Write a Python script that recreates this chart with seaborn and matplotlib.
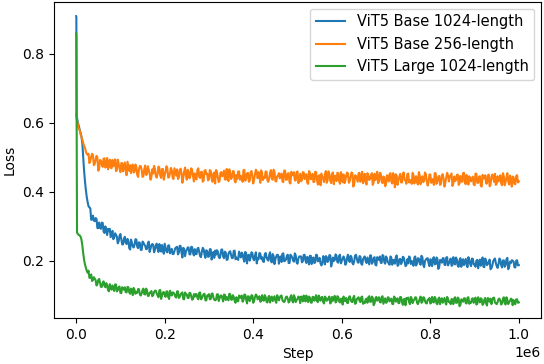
import numpy as np
import pandas as pd
import matplotlib
matplotlib.use("Agg")
import matplotlib.pyplot as plt
import seaborn as sns

# ---------------- data ----------------
series_names = ["ViT5 Base 1024-length", "ViT5 Base 256-length", "ViT5 Large 1024-length"]
colors = ["#1f77b4", "#ff7f0e", "#2ca02c"]

# logged steps in the steady part of training (two interleaved logs, every 4k steps each)
tail_steps = np.arange(28_000, 1_000_001, 4_000)
mid_steps = np.arange(30_000, 999_000, 4_000)

# early steps (warm-up region)
blue_early_steps = [0, 500, 1000, 4000, 8000, 12000, 14000, 16000, 18000, 20000, 22000, 24000, 26000]
blue_early_loss = [0.908, 0.905, 0.620, 0.600, 0.580, 0.560, 0.540, 0.500, 0.460, 0.430, 0.405, 0.385, 0.370]

orange_early_steps = [0, 1000, 3000, 5000, 8000, 11000, 14000, 17000, 20000, 23000, 26000]
orange_early_loss = [0.625, 0.610, 0.601, 0.586, 0.578, 0.562, 0.551, 0.536, 0.527, 0.512, 0.507]

green_early_steps = [0, 500, 2000, 5000, 8000, 10000, 12000, 14000, 16000, 18000, 20000, 22000, 24000, 26000]
green_early_loss = [0.858, 0.850, 0.282, 0.276, 0.274, 0.270, 0.262, 0.245, 0.222, 0.203, 0.190, 0.180, 0.172, 0.166]

# steady-part losses, in thousandths
blue_tail_milli = [
    358, 352, 320, 317, 324, 295, 311, 293, 310, 281, 289, 293,
    293, 273, 263, 280, 270, 257, 278, 248, 264, 253, 264, 237,
    262, 242, 247, 262, 237, 252, 232, 253, 244, 235, 256, 235,
    249, 225, 245, 236, 249, 227, 232, 250, 227, 245, 222, 235,
    220, 237, 241, 224, 243, 210, 235, 227, 239, 219, 241, 223,
    234, 220, 238, 214, 227, 234, 209, 228, 213, 234, 218, 209,
    218, 228, 208, 233, 213, 227, 203, 221, 228, 208, 229, 205,
    206, 227, 210, 221, 198, 223, 215, 201, 225, 206, 215, 193,
    205, 221, 211, 197, 223, 204, 217, 199, 220, 191, 213, 217,
    210, 197, 222, 201, 215, 194, 218, 210, 198, 216, 192, 213,
    213, 199, 218, 194, 208, 215, 191, 210, 196, 217, 202, 193,
    192, 209, 214, 197, 217, 184, 210, 202, 215, 195, 218, 200,
    213, 189, 210, 202, 215, 194, 199, 218, 196, 214, 192, 205,
    213, 194, 200, 216, 192, 208, 189, 211, 203, 195, 217, 197,
    213, 196, 189, 209, 202, 192, 216, 188, 206, 197, 210, 185,
    205, 213, 191, 196, 210, 187, 208, 194, 215, 189, 200, 207,
    194, 205, 185, 211, 191, 206, 182, 201, 208, 189, 210, 187,
    199, 186, 211, 190, 204, 183, 208, 200, 188, 206, 182, 203,
    185, 206, 190, 201, 179, 204, 196, 183, 207, 188, 198, 176,
    187, 204, 194, 180, 207, 188, 201, 183, 205, 176, 198, 202,
    198, 181, 202, 188,
]
blue_mid_milli = [
    355, 319, 331, 315, 322, 295, 296, 311, 285, 300, 275, 286,
    269, 287, 268, 276, 251, 273, 263, 248, 270, 249, 257, 233,
    253, 239, 263, 241, 254, 232, 256, 247, 234, 251, 226, 246,
    247, 232, 250, 226, 239, 246, 221, 239, 225, 245, 230, 220,
    229, 239, 219, 244, 224, 238, 214, 232, 239, 219, 240, 216,
    220, 236, 226, 211, 238, 218, 231, 212, 234, 204, 226, 230,
    231, 212, 217, 233, 208, 224, 204, 226, 217, 209, 230, 210,
    203, 219, 224, 206, 226, 193, 218, 210, 223, 202, 225, 207,
    223, 206, 199, 218, 211, 201, 225, 196, 214, 205, 218, 192,
    213, 221, 199, 204, 218, 194, 215, 201, 222, 196, 207, 213,
    196, 217, 201, 212, 190, 215, 207, 194, 218, 199, 209, 187,
    214, 190, 211, 203, 216, 195, 200, 219, 197, 215, 193, 206,
    206, 193, 218, 197, 211, 190, 215, 207, 195, 213, 189, 210,
    199, 210, 190, 216, 196, 211, 187, 206, 213, 194, 215, 192,
    208, 194, 213, 189, 203, 210, 186, 205, 191, 212, 197, 188,
    193, 210, 200, 186, 213, 194, 207, 189, 211, 182, 204, 208,
    185, 202, 207, 190, 210, 177, 203, 195, 208, 188, 211, 193,
    207, 188, 194, 210, 186, 202, 183, 205, 197, 189, 211, 191,
    207, 190, 183, 203, 196, 186, 210, 182, 200, 191, 204, 179,
    199, 207, 185, 190, 204, 181, 202, 188, 209, 183, 194, 201,
    182, 201, 187,
]

orange_tail_milli = [
    510, 489, 510, 477, 493, 500, 467, 490, 472, 497, 477, 465,
    493, 468, 474, 494, 462, 482, 457, 483, 472, 460, 487, 460,
    454, 479, 459, 472, 443, 475, 464, 446, 476, 451, 464, 435,
    465, 475, 446, 452, 469, 440, 466, 448, 474, 441, 454, 463,
    437, 458, 465, 442, 467, 426, 459, 447, 464, 439, 468, 445,
    453, 436, 468, 440, 458, 432, 463, 453, 437, 460, 429, 456,
    463, 442, 432, 457, 449, 436, 466, 431, 454, 442, 459, 427,
    437, 459, 446, 429, 463, 439, 455, 432, 460, 424, 451, 456,
    457, 426, 453, 443, 459, 433, 439, 463, 435, 458, 430, 447,
    439, 453, 428, 461, 435, 454, 424, 448, 457, 433, 459, 430,
    431, 457, 437, 451, 423, 455, 445, 428, 458, 434, 447, 419,
    445, 428, 460, 433, 451, 425, 456, 446, 431, 454, 423, 450,
    450, 432, 456, 426, 444, 453, 422, 446, 429, 455, 436, 425,
    452, 421, 448, 438, 454, 428, 434, 458, 430, 453, 425, 442,
    423, 444, 451, 429, 454, 413, 446, 435, 452, 427, 456, 433,
    451, 427, 434, 455, 424, 445, 421, 448, 438, 428, 456, 431,
    428, 450, 437, 420, 454, 430, 446, 423, 451, 415, 442, 447,
    443, 453, 425, 431, 449, 420, 446, 429, 455, 422, 436, 445,
    430, 444, 419, 452, 426, 445, 415, 439, 448, 424, 450, 421,
    450, 429, 420, 445, 437, 424, 454, 419, 442, 430, 447, 415,
    442, 422, 448, 430,
]
orange_mid_milli = [
    483, 501, 505, 481, 504, 461, 492, 480, 496, 470, 498, 474,
    471, 492, 478, 460, 493, 468, 483, 459, 485, 448, 473, 477,
    475, 456, 479, 449, 466, 474, 443, 466, 449, 474, 454, 443,
    453, 466, 441, 473, 447, 466, 435, 459, 468, 443, 469, 440,
    468, 447, 437, 462, 454, 441, 470, 435, 458, 446, 463, 430,
    438, 464, 443, 457, 429, 461, 451, 433, 463, 439, 452, 424,
    459, 428, 455, 445, 461, 435, 441, 465, 437, 460, 432, 449,
    459, 435, 442, 463, 432, 453, 429, 456, 446, 436, 464, 439,
    452, 462, 434, 440, 458, 429, 455, 438, 464, 431, 445, 454,
    447, 430, 462, 435, 453, 427, 458, 448, 433, 456, 425, 452,
    434, 456, 443, 426, 460, 436, 452, 429, 457, 421, 448, 453,
    437, 451, 426, 459, 433, 452, 422, 446, 455, 431, 457, 428,
    425, 446, 453, 431, 456, 415, 448, 437, 454, 429, 458, 435,
    428, 454, 434, 448, 420, 452, 442, 425, 455, 431, 444, 416,
    448, 430, 454, 424, 442, 451, 420, 444, 427, 453, 434, 423,
    453, 432, 423, 448, 440, 427, 457, 422, 445, 433, 450, 418,
    450, 426, 433, 454, 423, 444, 420, 447, 437, 427, 455, 430,
    448, 417, 444, 434, 450, 424, 430, 454, 426, 449, 421, 438,
    438, 421, 453, 426, 444, 418, 449, 439, 424, 447, 416, 443,
    442, 452, 424, 430, 448, 419, 445, 428, 454, 421, 435, 444,
    423, 446, 427,
]

green_tail_milli = [
    172, 152, 142, 153, 144, 133, 148, 125, 137, 128, 136, 116,
    133, 117, 120, 132, 112, 124, 108, 124, 117, 110, 125, 109,
    120, 101, 116, 110, 119, 103, 106, 120, 103, 116, 99, 109,
    98, 110, 114, 100, 115, 90, 109, 102, 112, 96, 114, 100,
    108, 97, 112, 93, 103, 109, 89, 104, 93, 108, 97, 90,
    97, 104, 89, 109, 92, 104, 86, 100, 104, 90, 106, 88,
    88, 104, 92, 100, 83, 102, 96, 86, 104, 88, 96, 79,
    87, 100, 93, 82, 103, 88, 98, 84, 101, 79, 96, 99,
    92, 82, 101, 85, 96, 80, 99, 93, 84, 98, 79, 95,
    94, 100, 83, 87, 97, 80, 96, 85, 101, 81, 90, 95,
    97, 83, 87, 100, 81, 94, 79, 96, 90, 84, 100, 85,
    96, 77, 93, 87, 97, 81, 85, 99, 83, 96, 80, 90,
    97, 84, 79, 94, 89, 81, 99, 78, 92, 85, 95, 76,
    78, 91, 95, 82, 97, 72, 92, 85, 95, 80, 98, 84,
    79, 95, 83, 91, 75, 94, 88, 78, 96, 81, 89, 72,
    92, 81, 96, 78, 88, 94, 75, 90, 79, 95, 84, 77,
    87, 77, 96, 80, 91, 75, 94, 88, 79, 93, 74, 90,
    82, 90, 75, 95, 79, 91, 73, 87, 92, 78, 94, 76,
    79, 92, 85, 74, 95, 80, 90, 76, 93, 71, 88, 91,
    88, 94, 77, 81, 91, 74, 90, 79, 95, 75, 84, 89,
    87, 75, 89, 80,
]
green_mid_milli = [
    151, 161, 145, 149, 129, 145, 137, 125, 141, 124, 130, 112,
    122, 129, 113, 132, 115, 126, 107, 120, 124, 109, 124, 105,
    117, 122, 105, 108, 118, 100, 116, 104, 120, 99, 108, 113,
    101, 114, 106, 95, 116, 100, 110, 96, 112, 90, 107, 109,
    104, 94, 112, 96, 107, 90, 109, 103, 93, 107, 88, 104,
    104, 93, 108, 89, 99, 105, 86, 100, 89, 105, 94, 86,
    103, 84, 100, 93, 103, 87, 91, 105, 88, 101, 85, 95,
    83, 96, 100, 87, 102, 77, 97, 90, 100, 85, 103, 89,
    98, 84, 88, 101, 82, 95, 80, 97, 91, 85, 101, 86,
    99, 86, 81, 96, 91, 83, 101, 80, 94, 87, 97, 78,
    94, 100, 83, 87, 97, 80, 96, 85, 101, 81, 90, 95,
    81, 97, 85, 93, 77, 96, 90, 80, 98, 83, 91, 74,
    85, 93, 78, 98, 82, 94, 76, 90, 95, 81, 97, 79,
    89, 79, 98, 82, 93, 77, 96, 90, 81, 95, 76, 92,
    81, 94, 87, 76, 97, 82, 92, 78, 95, 73, 90, 93,
    94, 75, 91, 85, 95, 79, 83, 97, 81, 94, 78, 88,
    93, 79, 83, 96, 77, 90, 75, 92, 86, 80, 96, 81,
    75, 88, 92, 79, 94, 69, 89, 82, 92, 77, 95, 81,
    90, 79, 94, 76, 86, 92, 73, 88, 77, 93, 82, 75,
    93, 80, 75, 90, 85, 77, 95, 74, 88, 81, 91, 72,
    77, 89, 79,
]

# ---------------- build long table ----------------
frames = []
for name, e_steps, e_loss, t_milli, m_milli in [
    (series_names[0], blue_early_steps, blue_early_loss, blue_tail_milli, blue_mid_milli),
    (series_names[1], orange_early_steps, orange_early_loss, orange_tail_milli, orange_mid_milli),
    (series_names[2], green_early_steps, green_early_loss, green_tail_milli, green_mid_milli),
]:
    steps = list(e_steps) + list(tail_steps) + list(mid_steps)
    loss = (list(e_loss) + list(np.asarray(t_milli) / 1000.0)
            + list(np.asarray(m_milli) / 1000.0))
    part = pd.DataFrame({"Step": steps, "Loss": loss, "Model": name})
    frames.append(part.sort_values("Step"))
df = pd.concat(frames, ignore_index=True)

# ---------------- plot ----------------
fig = plt.figure(figsize=(5.44, 3.64), dpi=100)
ax = fig.add_axes([54 / 544, 1 - 318 / 364, (541 - 54) / 544, (318 - 2) / 364])

sns.lineplot(data=df, x="Step", y="Loss", hue="Model", hue_order=series_names,
             palette=colors, estimator=None, sort=False, linewidth=1.5, ax=ax)

ax.set_xlabel("Step", fontsize=10)
ax.set_ylabel("Loss", fontsize=10)
ax.set_xlim(-50000, 1050000)
ax.set_ylim(0.035, 0.949)
ax.set_xticks([0, 200000, 400000, 600000, 800000, 1000000])
ax.set_yticks([0.2, 0.4, 0.6, 0.8])
ax.legend(loc="upper right", fontsize=10.5, borderaxespad=0.45)

fig.savefig("out.png", dpi=100)
